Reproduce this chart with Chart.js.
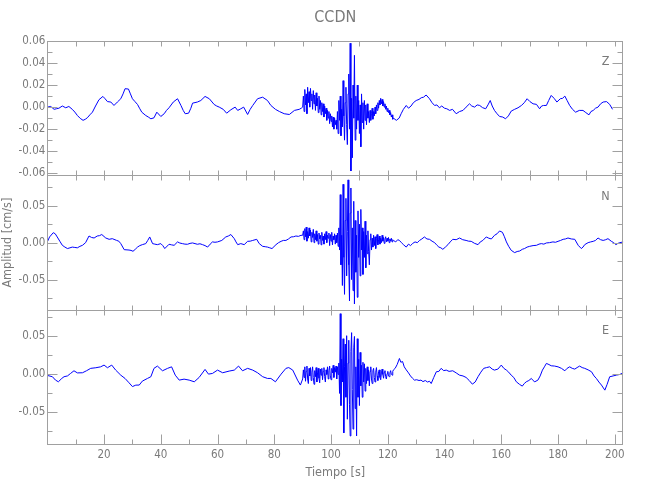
<!DOCTYPE html>
<html>
<head>
<meta charset="utf-8">
<title>CCDN</title>
<script src="https://cdn.jsdelivr.net/npm/chart.js@4.4.1/dist/chart.umd.min.js"></script>
<style>
  html, body { margin: 0; padding: 0; background: #fff; }
</style>
</head>
<body>
<canvas id="sismo" width="650" height="500"></canvas>
<script>
/* registro CCDN: [tiempo (s), amplitud (cm/s)] */
var zComp = [
  [0,0.000],[1.2,0.0006],[2.4,-0.002],[3.2,-0.0015],[4.1,-0.001],[5.3,0.001],[6.5,-0.0006],[7.6,0.0006],[8.8,-0.002],[9.7,-0.0045],
  [10.6,-0.0076],[11.6,-0.0102],[12.6,-0.012],[13.4,-0.011],[14.1,-0.0097],[15,-0.007],[15.9,-0.0046],[17,0.001],[18.2,0.0067],[19.6,0.0097],
  [20.4,0.0075],[21.2,0.005],[22.4,0.0046],[23.5,0.0015],[24.7,0.0046],[25.9,0.0076],[26.7,0.012],[27.4,0.0167],[28.6,0.0164],[29.3,0.012],
  [30,0.0076],[30.9,0.005],[31.8,0.0024],[32.5,-0.001],[33.3,-0.0046],[34.7,-0.0076],[35.6,-0.009],[36.5,-0.0106],[37.6,-0.0097],[38.6,-0.0046],
  [40,-0.0085],[41.2,-0.006],[42,-0.003],[42.9,-0.0006],[44.4,0.0046],[45.9,0.0076],[47.1,0.0015],[47.9,-0.003],[48.6,-0.006],[49.8,-0.0055],
  [50.6,-0.001],[51.2,0.0036],[52.9,0.0046],[54.1,0.006],[55.6,0.0097],[57.1,0.0076],[58.8,0.0024],[59.7,0.001],[60.6,0],[62,-0.002],
  [63.2,-0.0055],[64.7,-0.0024],[66.2,0],[67.1,-0.003],[68.2,-0.0015],[69.2,0],[70.6,-0.0067],[71.5,-0.002],[72.4,0.0015],[74.1,0.0076],
  [75.9,0.009],[77.6,0.006],[78.8,0.0015],[80.4,-0.002],[81.8,-0.004],[83.5,-0.006],[85.3,-0.0067],[87.1,-0.003],[88.8,-0.002],[89.5,-0.001],
  [90,0.000],[90.25,0.010],[90.5,-0.004],[90.75,0.016],[91,0.002],[91.25,0.012],[91.5,-0.006],[91.75,0.018],[92,0.004],[92.25,0.014],
  [92.5,0.000],[92.75,0.017],[93,0.006],[93.25,0.012],[93.5,-0.002],[93.75,0.015],[94,0.003],[94.25,0.011],[94.5,-0.003],[94.75,0.013],
  [95,0.001],[95.25,0.008],[95.5,-0.005],[95.75,0.010],[96,-0.002],[96.25,0.006],[96.5,-0.007],[96.75,0.004],[97,-0.004],[97.25,0.003],
  [97.5,-0.009],[97.75,0.001],[98,-0.006],[98.25,-0.001],[98.5,-0.012],[98.75,-0.003],[99,-0.010],[99.25,-0.004],[99.5,-0.015],[99.75,-0.006],
  [100,-0.013],[100.25,-0.008],[100.5,-0.018],[100.75,-0.009],[101,-0.020],[101.25,-0.010],[101.5,-0.016],[101.75,-0.012],
  [102,-0.020],[102.25,-0.004],[102.5,-0.024],[102.75,0.006],[103,-0.012],[103.25,0.010],[103.5,-0.026],[103.75,-0.002],[104,-0.018],[104.25,0.024],
  [104.5,-0.008],[104.75,-0.030],[105,0.004],[105.25,0.018],[105.5,-0.016],[105.75,-0.034],[106,0.012],[106.25,0.030],[106.5,-0.020],[106.75,0.058],
  [107,-0.058],[107.25,0.008],[107.5,-0.046],[107.75,0.020],[108,-0.010],[108.25,0.047],[108.5,-0.030],[108.75,0.010],[109,-0.020],[109.25,0.020],
  [109.5,-0.012],[109.75,0.006],[110,-0.024],[110.25,0.002],[110.5,-0.036],[110.75,0.012],[111,-0.014],[111.25,0.004],[111.5,-0.020],[111.75,0.006],
  [112,-0.012],[112.25,0.002],[112.5,-0.016],[112.75,0.003],[113,-0.010],
  [113.25,-0.004],[113.5,-0.014],[113.75,-0.003],[114,-0.012],[114.25,-0.006],[114.5,-0.001],[114.75,-0.011],[115,-0.004],[115.25,-0.008],[115.5,0.000],
  [115.75,-0.006],[116,0.002],[116.25,-0.003],[116.5,0.004],[116.75,-0.001],[117,0.006],[117.25,0.002],[117.5,0.008],[117.75,0.003],[118,0.007],
  [118.25,0.001],[118.5,0.005],[118.75,0.000],[119,0.003],[119.25,-0.002],[119.5,0.001],[119.75,-0.004],[120,-0.001],[120.25,-0.005],[120.5,-0.003],
  [120.75,-0.007],[121,-0.005],[121.25,-0.009],[121.5,-0.007],[121.75,-0.011],[122,-0.010],
  [123,-0.012],[124,-0.010],[124.7,-0.006],[125.5,-0.002],[126.5,0.0015],[127.3,-0.001],[128.2,0.001],[129,0.004],[130,0.006],[131,0.007],
  [131.8,0.0085],[132.6,0.009],[133.5,0.011],[134.7,0.0076],[135.6,0.004],[136.5,0.0015],[137.3,0.002],[138.2,-0.0006],[139,0.001],[140,-0.001],
  [140.8,-0.0015],[141.8,-0.003],[142.8,-0.002],[144.1,-0.006],[145.3,-0.004],[146.5,-0.003],[147.6,0.000],[148.8,0.003],[149.6,0.001],[150.6,0.000],
  [151.5,0.002],[152.4,0.0015],[153.4,-0.0005],[154.5,-0.0015],[155.3,0.002],[156.1,0.006],[156.8,0.001],[157.6,-0.003],[158.5,-0.006],[159.4,-0.0085],
  [160.5,-0.009],[161.5,-0.0106],[162.5,-0.008],[163.5,-0.0036],[164.7,-0.002],[165.9,-0.0006],[167.1,0.0015],[168.1,0.004],[169.1,0.0076],[170.1,0.005],
  [171.2,0.003],[172.4,0.0025],[173.5,-0.0015],[174.2,0.001],[174.9,0.0015],[175.9,0.0015],[176.7,0.006],[177.6,0.0106],[178.6,0.008],[179.6,0.0046],
  [180.8,0.0076],[181.6,0.008],[182.4,0.010],[183.2,0.006],[184.1,0.0015],[185.1,-0.002],[186.2,-0.0046],[187.5,-0.003],[188.8,-0.003],[189.8,-0.005],
  [190.9,-0.007],[191.6,-0.004],[192.4,-0.003],[193.2,-0.001],[194.1,0.000],[195,0.003],[195.9,0.0046],[197.1,0.005],[198.2,0.0025],[199.2,-0.002]
];
var nComp = [
  [0,0.001],[0.8,0.0077],[2.1,0.0135],[2.8,0.012],[3.5,0.0077],[4.4,0.002],[5.3,-0.0036],[6.2,-0.006],[7.1,-0.008],[8,-0.007],
  [8.8,-0.006],[9.7,-0.0065],[10.6,-0.007],[11.5,-0.005],[12.4,-0.0036],[13.5,0],[14.7,0.009],[15.6,0.007],[16.5,0.0063],[17.6,0.009],
  [18.4,0.0095],[19.2,0.011],[20.6,0.0063],[21.8,0.0045],[22.9,0.0054],[24.4,0.0031],[25.2,0.002],[25.9,-0.0013],[27.1,-0.0095],[28.8,-0.010],
  [29.5,-0.0105],[30.2,-0.0117],[31,-0.009],[31.8,-0.006],[32.6,-0.004],[33.5,-0.0027],[34.7,-0.0013],[35.4,0.003],[36.1,0.0077],[37.1,-0.0013],
  [37.9,-0.002],[38.8,-0.0027],[40,-0.0013],[40.7,-0.004],[41.4,-0.008],[42.9,-0.0022],[43.8,-0.003],[44.7,-0.0036],[45.9,0.001],[46.7,-0.0005],
  [47.6,-0.0013],[48.5,-0.002],[49.4,-0.0022],[50.3,-0.001],[51.2,-0.0004],[52.9,-0.0022],[53.8,-0.0015],[54.7,-0.0027],[55.6,-0.004],[56.5,-0.006],
  [57.4,-0.002],[58.2,0.001],[59.1,0.0005],[60,0.001],[61.5,0.003],[62.9,0.0077],[63.8,0.009],[64.7,0.011],[65.9,0.0054],[66.5,0.001],
  [67.1,-0.0027],[68.2,-0.0013],[69.4,-0.0027],[70.6,0.0018],[71.5,0.002],[72.4,0.003],[73.8,0.0045],[74.7,-0.0013],[75.9,-0.005],[76.8,-0.0055],
  [77.6,-0.006],[78.4,-0.007],[79.2,-0.008],[80.6,-0.0027],[81.5,0.000],[82.4,0.0018],[83.2,0.003],[84.1,0.003],[85,0.005],[85.9,0.0077],
  [86.8,0.008],[87.6,0.009],[88.5,0.0085],[89.4,0.0099],
  [90,0.010],[90.25,0.016],[90.5,0.004],[90.75,0.019],[91,0.008],[91.25,0.021],[91.5,0.002],[91.75,0.015],[92,0.006],[92.25,0.020],
  [92.5,0.009],[92.75,0.017],[93,0.001],[93.25,0.014],[93.5,0.007],[93.75,0.018],[94,0.000],[94.25,0.012],[94.5,0.004],[94.75,0.016],
  [95,0.002],[95.25,0.011],[95.5,-0.002],[95.75,0.013],[96,0.005],[96.25,0.010],[96.5,-0.003],[96.75,0.014],[97,0.003],[97.25,0.009],
  [97.5,-0.002],[97.75,0.012],[98,0.004],[98.25,0.015],[98.5,0.000],[98.75,0.010],[99,0.006],[99.25,0.013],[99.5,-0.004],[99.75,0.011],
  [100,0.002],[100.25,0.014],[100.5,-0.003],[100.75,0.009],[101,0.004],[101.25,0.012],[101.5,-0.002],[101.75,0.010],[102,0.000],[102.25,0.013],
  [102.5,-0.005],
  [102.75,0.020],[103,-0.010],[103.25,0.065],[103.5,-0.030],[103.75,0.010],[104,-0.058],[104.25,0.079],[104.5,-0.020],[104.75,-0.070],[105,0.030],
  [105.25,0.060],[105.5,-0.045],[105.75,0.015],[106,0.085],[106.25,-0.030],[106.5,-0.079],[106.75,0.040],[107,0.074],[107.25,-0.050],[107.5,0.020],
  [107.75,-0.065],[108,0.056],[108.25,-0.083],[108.5,0.030],[108.75,-0.040],[109,0.010],[109.25,-0.074],[109.5,0.043],[109.75,-0.020],[110,0.025],
  [110.25,-0.045],[110.5,0.045],[110.75,-0.010],[111,0.020],[111.25,-0.043],[111.5,0.015],[111.75,-0.020],[112,0.029],[112.25,-0.034],[112.5,0.010],
  [112.75,-0.015],[113,0.016],
  [113.25,-0.012],[113.5,-0.030],[113.75,0.004],[114,0.012],[114.25,-0.010],[114.5,0.006],[114.75,-0.006],[115,0.010],[115.25,-0.004],[115.5,0.008],
  [115.75,-0.008],[116,0.006],[116.25,0.011],[116.5,-0.003],[116.75,0.004],[117,0.009],[117.25,-0.002],[117.5,0.006],[117.75,0.000],[118,0.010],
  [118.25,0.002],[118.5,0.007],[118.75,-0.001],[119,0.005],[119.25,0.008],[119.5,0.001],[119.75,0.006],[120,0.002],[120.25,0.007],[120.5,0.000],
  [120.75,0.005],[121,0.002],[121.25,0.006],[121.5,0.001],[121.75,0.004],[122,0.003],
  [122.8,0.001],[123.5,0.004],[124.1,0.003],[124.8,0.000],[125.6,-0.003],[126.5,-0.006],[127.3,-0.002],[128,-0.004],[128.8,-0.001],[129.6,0.001],
  [130.4,0.000],[131.2,0.003],[132,0.005],[132.9,0.0077],[133.8,0.005],[134.7,0.0045],[135.6,0.002],[136.5,0.000],[137.2,-0.003],[138,-0.006],
  [138.7,-0.007],[139.4,-0.009],[140.3,-0.006],[141.2,-0.0027],[142,0.001],[142.9,0.0045],[144.1,0.004],[145.3,0.0063],[146.4,0.004],[147.6,0.003],
  [148.5,0.002],[149.4,0.0018],[150.6,-0.001],[151.8,-0.0027],[152.6,0.001],[153.5,0.003],[154.7,0.0077],[155.6,0.006],[156.5,0.005],[157.6,0.0099],
  [158.5,0.012],[159.4,0.0158],[160.4,0.014],[161.1,0.008],[161.8,0.001],[162.6,-0.005],[163.5,-0.0104],[164.7,-0.0135],[165.6,-0.012],[166.5,-0.0113],
  [167.4,-0.009],[168.2,-0.008],[169.1,-0.006],[170,-0.005],[171.2,-0.004],[172.4,-0.0036],[173.3,-0.002],[174.1,-0.0013],[175,-0.002],[175.9,-0.0004],
  [177,0.000],[178.2,0.001],[179.1,0.0005],[180,0.0018],[180.9,0.003],[181.8,0.0045],[182.6,0.005],[183.5,0.0063],[184.7,0.005],[185.9,0.0045],
  [187.1,-0.0036],[188.2,-0.008],[188.8,-0.006],[189.4,-0.0027],[190.6,0.000],[191.5,0.001],[192.4,0.0018],[193.2,0.003],[194.1,0.0063],[195,0.004],
  [195.9,0.003],[196.8,0.004],[197.6,0.0054],[198.8,0.0018],[199.6,0.000],[200.4,-0.0027],[201.1,-0.001],[201.8,0.000],[203,0.001]
];
var eComp = [
  [0,-0.0013],[1.8,-0.003],[2.9,-0.0075],[3.9,-0.0097],[5.1,-0.0053],[5.9,-0.003],[7.1,-0.002],[8.2,0.0013],[9.4,0.0048],[10.6,0.002],
  [12.4,0.0022],[13.8,0.0048],[15.3,0.008],[17.1,0.0088],[18.8,0.010],[20,0.0123],[21.2,0.0088],[22.7,0.0123],[24.1,0.0057],[25.9,-0.001],
  [27.4,-0.0053],[28.8,-0.011],[30,-0.016],[31.2,-0.0141],[32.4,-0.014],[33.5,-0.0088],[35.3,-0.0053],[36.5,-0.003],[37.6,0.008],[38.8,0.011],
  [40.6,0.0048],[42.4,0.008],[43.8,0.010],[45.1,-0.001],[46.5,-0.0075],[48.2,-0.0062],[50,-0.0075],[51.8,-0.0097],[53.5,-0.004],[55.6,0.0066],
  [56.8,0.0004],[58.2,0.0013],[60,0.0057],[61.8,0.0022],[64.1,0.0044],[65.9,0.0057],[67.4,0.011],[68.8,0.0048],[70.6,0.008],[72.4,0.0057],
  [74.1,0.0022],[75.9,-0.003],[77.6,-0.0053],[78.8,-0.0053],[80.4,-0.0097],[82.4,0.0004],[84.1,0.008],[85.1,0.009],[86.5,0.0057],[88.2,-0.0075],
  [89.2,-0.014],
  [90,-0.006],[90.25,0.006],[90.5,-0.004],[90.75,0.010],[91,-0.009],[91.25,0.004],[91.5,0.011],[91.75,-0.006],[92,-0.012],[92.25,0.008],
  [92.5,-0.002],[92.75,0.009],[93,-0.008],[93.25,0.003],[93.5,0.010],[93.75,-0.004],[94,-0.013],[94.25,0.005],[94.5,-0.003],[94.75,0.009],
  [95,-0.010],[95.25,0.002],[95.5,0.008],[95.75,-0.005],[96,-0.011],[96.25,0.007],[96.5,-0.001],[96.75,0.008],[97,-0.007],[97.25,0.004],
  [97.5,0.009],[97.75,-0.003],[98,-0.010],[98.25,0.006],[98.5,0.000],[98.75,0.010],[99,-0.006],[99.25,0.005],[99.5,0.011],[99.75,-0.002],
  [100,-0.007],[100.25,0.008],[100.5,0.002],[100.75,0.012],[101,-0.004],[101.25,0.009],[101.5,0.003],[101.75,0.011],[102,-0.006],[102.25,0.010],
  [102.5,0.000],
  [102.75,0.015],[103,-0.025],[103.25,0.080],[103.5,-0.041],[103.75,0.020],[104,-0.010],[104.25,0.047],[104.5,-0.077],[104.75,0.010],[105,0.040],
  [105.25,-0.030],[105.5,0.051],[105.75,-0.059],[106,0.015],[106.25,0.045],[106.5,-0.040],[106.75,-0.081],[107,0.030],[107.25,0.055],[107.5,-0.020],
  [107.75,-0.072],[108,0.035],[108.25,0.050],[108.5,-0.045],[108.75,0.010],[109,-0.081],[109.25,0.047],[109.5,-0.030],[109.75,0.020],[110,-0.041],
  [110.25,0.029],[110.5,-0.015],[110.75,0.012],[111,-0.030],[111.25,0.016],[111.5,-0.010],[111.75,0.014],[112,-0.022],[112.25,0.008],[112.5,-0.012],
  [112.75,0.010],[113,-0.008],
  [113.25,0.006],[113.5,-0.015],[113.75,0.004],[114,0.010],[114.25,-0.006],[114.5,-0.012],[114.75,0.005],[115,0.008],[115.25,-0.004],[115.5,-0.010],
  [115.75,0.003],[116,0.009],[116.25,-0.002],[116.5,-0.008],[116.75,0.004],[117,0.006],[117.25,-0.004],[117.5,-0.007],[117.75,0.002],[118,0.007],
  [118.25,0.000],[118.5,-0.005],[118.75,0.003],[119,0.005],[119.25,-0.003],[119.5,-0.006],[119.75,0.001],[120,0.004],[120.25,-0.002],[120.5,-0.003],
  [120.75,0.002],[121,0.005],[121.25,0.000],[121.5,-0.001],[121.75,0.004],[122,0.006],
  [122.6,0.008],[123.3,0.013],[124.1,0.021],[124.6,0.016],[125.2,0.017],[125.8,0.010],[126.5,0.006],[127.3,0.002],[128,-0.002],[128.7,-0.005],
  [129.4,-0.0075],[130.2,-0.007],[131,-0.008],[131.7,-0.0075],[132.4,-0.0095],[133.2,-0.008],[134,-0.010],[134.7,-0.009],[135.3,-0.012],[136.2,-0.004],
  [137.1,0.0035],[138,0.004],[138.8,0.008],[139.7,0.005],[140.6,0.0057],[141.6,0.004],[142.9,0.0048],[144.1,0.002],[145.3,-0.001],[146.5,-0.002],
  [147.6,-0.004],[148.7,-0.008],[149.8,-0.0128],[150.8,-0.010],[151.8,-0.003],[152.8,0.003],[153.8,0.008],[154.8,0.009],[155.9,0.010],[156.8,0.007],
  [157.6,0.0057],[158.8,0.007],[160,0.0123],[160.9,0.008],[161.8,0.0057],[162.6,0.003],[163.5,-0.001],[164.4,-0.004],[165.3,-0.0097],[166.4,-0.013],
  [167.4,-0.0154],[168.1,-0.012],[168.8,-0.0097],[169.7,-0.008],[170.6,-0.0053],[171.2,-0.008],[171.8,-0.0097],[172.9,-0.0075],[173.7,-0.002],[174.5,0.0057],
  [175.2,0.010],[175.9,0.0145],[176.8,0.013],[177.6,0.0114],[178.8,0.011],[180,0.010],[181.2,0.008],[182.4,0.0048],[183.2,0.008],[184.1,0.010],
  [185,0.008],[185.9,0.007],[186.7,0.009],[187.6,0.011],[188.5,0.009],[189.4,0.008],[190.6,0.006],[191.8,0.0035],[192.7,-0.002],[193.5,-0.0053],
  [194.4,-0.010],[195.3,-0.014],[196.5,-0.0207],[197.3,-0.013],[198.2,-0.0031],[199.4,-0.002],[200.6,-0.0009],[201.8,0.000],[203,0.0022]
];

var componentes = ["Z", "N", "E"];
var xTicks = [20, 40, 60, 80, 100, 120, 140, 160, 180, 200];
var xMenores = [10, 30, 50, 70, 90, 110, 130, 150, 170, 190];
var zTicks = [0.06, 0.04, 0.02, 0, -0.02, -0.04, -0.06];
var zMenores = [0.05, 0.03, 0.01, -0.01, -0.03, -0.05];
var neTicks = [0.05, 0, -0.05];
var neMenores = [0.075, 0.025, -0.025, -0.075];

var fuente = "'DejaVu Sans Condensed', 'Liberation Sans', sans-serif";
var colorTexto = '#7a7a7a';
var colorEje = '#a0a0a0';
var azul = '#0000ff';

function serie(comp){
  var d = [];
  for (var i = 0; i < comp.length; i++){
    d.push({x: comp[i][0], y: comp[i][1]});
  }
  return d;
}

function ejeY(min, max, ticks, conTitulo){
  return {
    type: 'linear', position: 'left', stack: 'sismo', stackWeight: 1,
    min: min, max: max,
    grid: {display: false, drawTicks: false}, border: {display: false},
    afterBuildTicks: function(s){ s.ticks = ticks.map(function(v){ return {value: v}; }); },
    afterFit: function(s){ s.width = 47.3; },
    ticks: {
      color: colorTexto, font: {family: fuente, size: 11.5}, padding: 2, autoSkip: false,
      callback: function(v){ return v.toFixed(2); }
    },
    title: {display: conTitulo, text: 'Amplitud [cm/s]', color: colorTexto,
            font: {family: fuente, size: 12.5}, padding: 0}
  };
}

function linea(ctx, x1, y1, x2, y2){
  ctx.beginPath();
  ctx.moveTo(x1, y1);
  ctx.lineTo(x2, y2);
  ctx.stroke();
}

/* marco de cada panel con marcas hacia adentro, como en IDL */
var marco = {
  id: 'marco',
  afterDraw: function(chart){
    var ctx = chart.ctx;
    var x = chart.scales.x;
    var paneles = [
      [chart.scales.yZ, zTicks, zMenores],
      [chart.scales.yN, neTicks, neMenores],
      [chart.scales.yE, neTicks, neMenores]
    ];
    var l = Math.round(x.left) + 0.5, r = Math.round(x.right) - 0.5;
    ctx.save();
    ctx.strokeStyle = colorEje;
    ctx.lineWidth = 1;
    paneles.forEach(function(p, i){
      var y = p[0];
      var t = Math.round(y.top) + 0.5, b = Math.round(y.bottom) + 0.5;
      ctx.strokeRect(l, t, r - l, b - t);
      p[1].forEach(function(v){
        var py = Math.round(y.getPixelForValue(v)) + 0.5;
        linea(ctx, l, py, l + 10, py);
        linea(ctx, r, py, r - 10, py);
      });
      p[2].forEach(function(v){
        var py = Math.round(y.getPixelForValue(v)) + 0.5;
        linea(ctx, l, py, l + 5, py);
        linea(ctx, r, py, r - 5, py);
      });
      xTicks.concat(xMenores).forEach(function(v){
        var px = Math.round(x.getPixelForValue(v)) + 0.5;
        var largo = (i === 2 && xTicks.indexOf(v) >= 0) ? 10 : 5;
        linea(ctx, px, t, px, t + 5);
        linea(ctx, px, b, px, b - largo);
      });
      ctx.fillStyle = colorTexto;
      ctx.font = '12.5px ' + fuente;
      ctx.textAlign = 'center';
      ctx.textBaseline = 'middle';
      ctx.fillText(componentes[i], r - 17, y.top + 21);
    });
    ctx.restore();
  }
};

var ctx = document.getElementById('sismo').getContext('2d');
var chart = new Chart(ctx, {
  type: 'line',
  data: {
    datasets: [
      {label: 'Z', data: serie(zComp), yAxisID: 'yZ', borderColor: azul, backgroundColor: azul},
      {label: 'N', data: serie(nComp), yAxisID: 'yN', borderColor: azul, backgroundColor: azul},
      {label: 'E', data: serie(eComp), yAxisID: 'yE', borderColor: azul, backgroundColor: azul}
    ]
  },
  options: {
    responsive: false,
    animation: false,
    devicePixelRatio: 1,
    layout: {padding: {left: 0, right: 26.7, top: 0, bottom: 0}},
    elements: {line: {borderWidth: 1, tension: 0, fill: false}, point: {radius: 0}},
    plugins: {
      colors: {enabled: false},
      legend: {display: false},
      tooltip: {enabled: false},
      title: {display: true, fullSize: false, text: 'CCDN', color: colorTexto,
              font: {family: fuente, size: 16, weight: 'normal'},
              padding: {top: 8.4, bottom: 13.4}}
    },
    scales: {
      x: {
        type: 'linear', position: 'bottom', min: 0, max: 203,
        grid: {display: false, drawTicks: false}, border: {display: false},
        afterBuildTicks: function(s){ s.ticks = xTicks.map(function(v){ return {value: v}; }); },
        afterFit: function(s){ s.height = 55.7; },
        ticks: {color: colorTexto, font: {family: fuente, size: 11.5}, padding: 4, maxRotation: 0, autoSkip: false},
        title: {display: true, text: 'Tiempo [s]', color: colorTexto,
                font: {family: fuente, size: 12.5}, padding: {top: 0, bottom: 20}}
      },
      yE: ejeY(-0.092, 0.085, neTicks, false),
      yN: ejeY(-0.091, 0.091, neTicks, true),
      yZ: ejeY(-0.062, 0.06, zTicks, false)
    }
  },
  plugins: [marco]
});
</script>
</body>
</html>
